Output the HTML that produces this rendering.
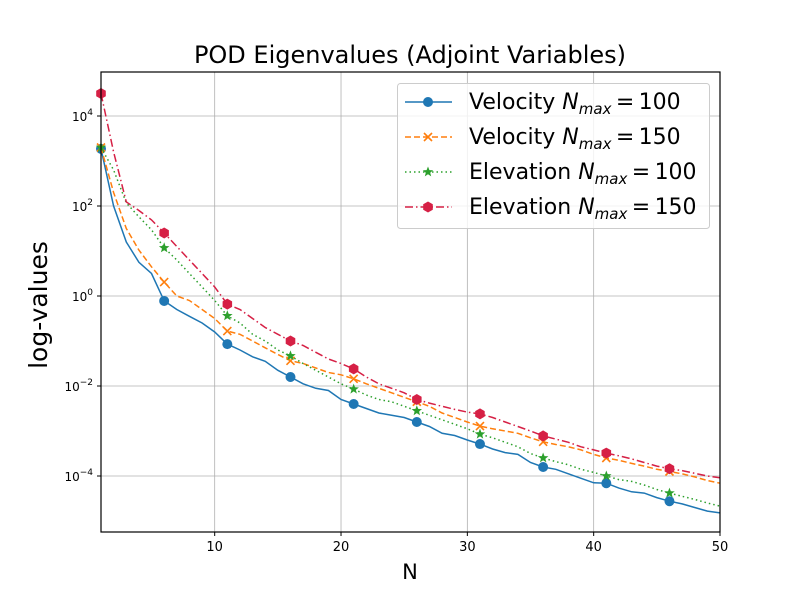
<!DOCTYPE html>
<html><head><meta charset="utf-8"><style>
html,body{margin:0;padding:0;background:#fff;}
svg text{font-family:"DejaVu Sans","Liberation Sans",sans-serif;}
</style></head><body>
<svg id="chart" width="800" height="600" xmlns="http://www.w3.org/2000/svg">
<rect width="800" height="600" fill="#fff"/>
<g id="grid"></g>
<g id="series"></g>
<rect x="101" y="72" width="619" height="460" fill="none" stroke="#000" stroke-width="1.2"/>
<g id="ticks"></g>
<text x="410" y="63" font-size="24" text-anchor="middle">POD Eigenvalues (Adjoint Variables)</text>
<text x="410" y="579" font-size="21" text-anchor="middle">N</text>
<text transform="translate(47,305) rotate(-90)" font-size="25" text-anchor="middle">log-values</text>
<g id="legend"></g>
</svg>
<script>
const nValues = [1,2,3,4,5,6,7,8,9,10,11,12,13,14,15,16,17,18,19,20,21,22,23,24,25,26,27,28,29,30,31,32,33,34,35,36,37,38,39,40,41,42,43,44,45,46,47,48,49,50];
const velocity100Log = [3.27,2.0,1.2,0.75,0.5,-0.11,-0.3,-0.45,-0.6,-0.8,-1.07,-1.2,-1.35,-1.45,-1.65,-1.8,-1.95,-2.05,-2.1,-2.3,-2.4,-2.5,-2.6,-2.65,-2.7,-2.8,-2.9,-3.05,-3.1,-3.2,-3.29,-3.4,-3.48,-3.52,-3.7,-3.8,-3.85,-3.95,-4.05,-4.15,-4.16,-4.27,-4.35,-4.38,-4.48,-4.56,-4.62,-4.7,-4.78,-4.82];
const velocity150Log = [3.3,2.3,1.5,1.02,0.65,0.31,0.0,-0.1,-0.3,-0.5,-0.78,-0.85,-1.0,-1.15,-1.3,-1.44,-1.5,-1.6,-1.7,-1.75,-1.84,-1.95,-2.05,-2.15,-2.25,-2.35,-2.45,-2.6,-2.7,-2.8,-2.89,-2.95,-3.0,-3.05,-3.15,-3.24,-3.3,-3.35,-3.42,-3.52,-3.6,-3.65,-3.72,-3.78,-3.85,-3.9,-3.95,-4.02,-4.1,-4.16];
const elevation100Log = [3.3,2.8,2.07,1.76,1.47,1.07,0.8,0.5,0.2,-0.1,-0.44,-0.6,-0.85,-1.0,-1.2,-1.33,-1.5,-1.65,-1.8,-1.95,-2.07,-2.2,-2.3,-2.35,-2.45,-2.55,-2.65,-2.75,-2.85,-2.95,-3.07,-3.15,-3.25,-3.35,-3.5,-3.6,-3.68,-3.75,-3.85,-3.92,-4.0,-4.08,-4.12,-4.2,-4.3,-4.38,-4.45,-4.52,-4.6,-4.67];
const elevation150Log = [4.5,3.2,2.09,1.9,1.69,1.4,1.1,0.8,0.5,0.2,-0.18,-0.3,-0.5,-0.7,-0.85,-1.0,-1.1,-1.25,-1.4,-1.5,-1.62,-1.8,-1.95,-2.05,-2.15,-2.3,-2.38,-2.45,-2.52,-2.58,-2.62,-2.7,-2.8,-2.9,-3.0,-3.11,-3.18,-3.25,-3.35,-3.42,-3.49,-3.55,-3.62,-3.7,-3.78,-3.84,-3.88,-3.94,-4.0,-4.04];
const xTicks = [10,20,30,40,50];
const yTickExps = [-4,-2,0,2,4];
const seriesNames = ["Velocity","Velocity","Elevation","Elevation"];
const seriesNmax = ["100","150","100","150"];

const NS="http://www.w3.org/2000/svg";
const X0=101,X1=720,Y0=72,Y1=532;
function xScale(n){return X0+(n-1)/(50-1)*(X1-X0);}
function yScale(lg){return 296-lg*45;}
function mk(tag,attrs,parent){const e=document.createElementNS(NS,tag);for(const k in attrs)e.setAttribute(k,attrs[k]);parent.appendChild(e);return e;}
const grid=document.getElementById('grid'),ticks=document.getElementById('ticks'),ser=document.getElementById('series'),leg=document.getElementById('legend');
xTicks.forEach(t=>{const x=xScale(t);
 const g=mk('line',{x1:x,x2:x,y1:Y0,y2:Y1,stroke:'#b0b0b0','stroke-width':0.8},grid);
 
 const tk=mk('line',{x1:x,x2:x,y1:Y1,y2:Y1+4,stroke:'#000'},ticks);
 
 const tx=mk('text',{x:x,y:Y1+19,'font-size':13,'text-anchor':'middle'},ticks);tx.textContent=t;
 });
yTickExps.forEach(e=>{const y=yScale(e);
 const g=mk('line',{x1:X0,x2:X1,y1:y,y2:y,stroke:'#b0b0b0','stroke-width':0.8},grid);
 
 const tk=mk('line',{x1:X0-4,x2:X0,y1:y,y2:y,stroke:'#000'},ticks);
 
 const tx=mk('text',{x:X0-8,y:y+5,'font-size':12,'text-anchor':'end'},ticks);
 
 const b=document.createElementNS(NS,'tspan');b.textContent='10';tx.appendChild(b);
 const s=document.createElementNS(NS,'tspan');s.setAttribute('dy','-6');s.setAttribute('font-size','9');s.textContent=(e<0?'\u2212'+(-e):e);tx.appendChild(s);});
const styles=[
 {c:'#1f77b4',dash:'',m:'o',name:'velocity-100'},
 {c:'#ff7f0e',dash:'6,3',m:'x',name:'velocity-150'},
 {c:'#2ca02c',dash:'1.5,3',m:'*',name:'elevation-100'},
 {c:'#d62045',dash:'8,3,1.5,3',m:'h',name:'elevation-150'}];
const allData=[velocity100Log,velocity150Log,elevation100Log,elevation150Log];
function marker(type,x,y,c,parent){
 let e;
 if(type==='o')e=mk('circle',{cx:x,cy:y,r:5,fill:c},parent);
 else if(type==='h'){let p=[];for(let i=0;i<6;i++){const a=Math.PI/6+i*Math.PI/3;p.push((x+5.5*Math.cos(a)).toFixed(1)+','+(y+5.5*Math.sin(a)).toFixed(1));}e=mk('polygon',{points:p.join(' '),fill:c},parent);}
 else if(type==='x'){e=mk('path',{d:`M${x-4},${y-4}L${x+4},${y+4}M${x-4},${y+4}L${x+4},${y-4}`,stroke:c,'stroke-width':1.6,fill:'none'},parent);}
 else {let p=[];for(let i=0;i<10;i++){const r=i%2?2.3:5.5;const a=-Math.PI/2+i*Math.PI/5;p.push((x+r*Math.cos(a)).toFixed(1)+','+(y+r*Math.sin(a)).toFixed(1));}e=mk('polygon',{points:p.join(' '),fill:c},parent);}
 return e;}
allData.forEach((d,si)=>{const st=styles[si];
 const pts=d.map((v,i)=>xScale(nValues[i]).toFixed(1)+','+yScale(v).toFixed(1)).join(' ');
 const pl=mk('polyline',{points:pts,fill:'none',stroke:st.c,'stroke-width':1.5,'stroke-dasharray':st.dash},ser);
 
 d.forEach((v,i)=>{if(i%5===0){const m=marker(st.m,xScale(nValues[i]),yScale(v),st.c,ser);
  }});
});
const lb=mk('rect',{x:397.5,y:83.5,width:312,height:145,rx:3,fill:'#fff','fill-opacity':0.8,stroke:'#ccc'},leg);

styles.forEach((st,i)=>{const y=102+i*35;
 const l=mk('line',{x1:405,x2:452,y1:y,y2:y,stroke:st.c,'stroke-width':1.5,'stroke-dasharray':st.dash},leg);
 
 const m=marker(st.m,428,y,st.c,leg);
 
 const t=mk('text',{x:469,y:y+7,'font-size':22},leg);
 
 const a=document.createElementNS(NS,'tspan');a.textContent=seriesNames[i]+' ';t.appendChild(a);
 const b=document.createElementNS(NS,'tspan');b.setAttribute('font-style','italic');b.textContent='N';t.appendChild(b);
 const c=document.createElementNS(NS,'tspan');c.setAttribute('font-style','italic');c.setAttribute('font-size','15');c.setAttribute('dy','5');c.textContent='max';t.appendChild(c);
 const d=document.createElementNS(NS,'tspan');d.setAttribute('dy','-5');d.textContent='\u2009=\u2009'+seriesNmax[i];t.appendChild(d);
});
</script>
</body></html>
